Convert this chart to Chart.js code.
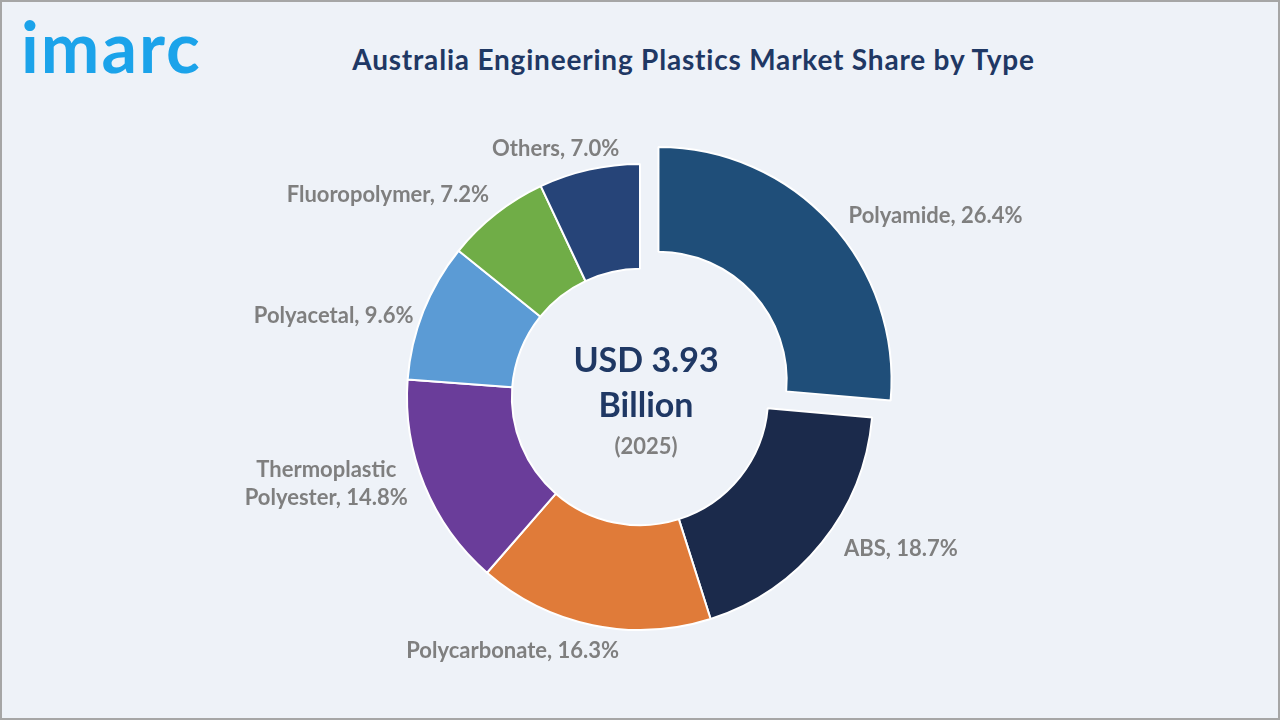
<!DOCTYPE html>
<html lang="en">
<head>
    <meta charset="UTF-8">
    <title>Australia Engineering Plastics Market Share by Type</title>
    <script src="https://cdn.jsdelivr.net/npm/chart.js"></script>
    <style>
        body { margin: 0; }
        #frame {
            position: relative;
            width: 1280px;
            height: 720px;
            box-sizing: border-box;
            border: 2px solid #a6a6a6;
            background: #eef2f8;
            font-family: Lato, "Open Sans", sans-serif;
            overflow: hidden;
        }
        #logo {
            position: absolute;
            left: 19px;
            top: 2px;
            font-size: 70px;
            font-weight: 700;
            color: #1ba3ea;
            letter-spacing: 2px;
        }
        #title {
            position: absolute;
            left: 330px;
            width: 723px;
            top: 40px;
            text-align: center;
            font-size: 28px;
            letter-spacing: 0.8px;
            font-weight: 700;
            color: #1f3864;
        }
        #chartBox {
            position: absolute;
            left: -2px;
            top: -2px;
            width: 1280px;
            height: 720px;
        }
    </style>
</head>
<body>
    <div id="frame">
        <div id="logo">imarc</div>
        <div id="title">Australia Engineering Plastics Market Share by Type</div>
        <div id="chartBox"><canvas id="shareChart" width="1280" height="720"></canvas></div>
    </div>

    <script>
        // Market share by type (%), clockwise from the top
        const types = ['Polyamide', 'ABS', 'Polycarbonate', 'Thermoplastic Polyester', 'Polyacetal', 'Fluoropolymer', 'Others'];
        const shares = [26.4, 18.7, 16.3, 14.8, 9.6, 7.2, 7.0];
        const colors = ['#1f4e79', '#1b2a4b', '#e07b39', '#6a3d9a', '#5b9bd5', '#70ad47', '#264478'];
        const centerLines = ['USD 3.93', 'Billion', '(2025)'];

        // small hand tweaks so labels sit where the original puts them
        const labelNudge = [[5, 5], [8, -5], [30, 8], [0, -8], [7, 11], [4, -5], [34, -3]];

        const labelPlugin = {
            id: 'sliceLabels',
            afterDatasetsDraw(chart) {
                const ctx = chart.ctx;
                const meta = chart.getDatasetMeta(0);
                ctx.save();
                ctx.textBaseline = 'middle';

                meta.data.forEach((arc, i) => {
                    const p = arc.getProps(['x', 'y', 'startAngle', 'endAngle', 'outerRadius']);
                    const mid = (p.startAngle + p.endAngle) / 2;
                    const shift = (arc.options.offset || 0) / 4;
                    const r = p.outerRadius + 18 + shift;
                    const ax = p.x + Math.cos(mid) * r + labelNudge[i][0];
                    const ay = p.y + Math.sin(mid) * r + labelNudge[i][1];

                    ctx.font = '700 22px Lato, sans-serif';
                    ctx.fillStyle = '#7f7f7f';
                    let text = types[i] + ', ' + shares[i].toFixed(1) + '%';
                    let lines = [text];
                    if (ctx.measureText(text).width > 240) {
                        const cut = text.indexOf(' ');
                        lines = [text.slice(0, cut), text.slice(cut + 1)];
                    }
                    const w = Math.max(...lines.map(l => ctx.measureText(l).width));
                    const right = Math.cos(mid) >= 0;
                    const left = right ? ax : ax - w;
                    const lh = 28;
                    lines.forEach((l, k) => {
                        ctx.textAlign = 'center';
                        ctx.fillText(l, left + w / 2, ay + (k - (lines.length - 1) / 2) * lh);
                    });
                });

                // text in the hole
                const cx = meta.data[0].x;
                const cy = meta.data[0].y;
                ctx.textAlign = 'center';
                ctx.fillStyle = '#1f3864';
                ctx.font = '700 34px Lato, sans-serif';
                ctx.fillText(centerLines[0], cx + 6, cy - 36);
                ctx.fillText(centerLines[1], cx + 6, cy + 9);
                ctx.fillStyle = '#7f7f7f';
                ctx.font = '700 22px Lato, sans-serif';
                ctx.fillText(centerLines[2], cx + 6, cy + 50);
                ctx.restore();
            }
        };

        const shareChart = new Chart(document.getElementById('shareChart'), {
            type: 'doughnut',
            data: {
                labels: types,
                datasets: [{
                    data: shares,
                    backgroundColor: colors,
                    borderColor: '#ffffff',
                    borderWidth: 2,
                    offset: [100, 0, 0, 0, 0, 0, 0]
                }]
            },
            options: {
                responsive: false,
                maintainAspectRatio: false,
                animation: false,
                radius: 233,
                cutout: '55%',
                layout: { padding: { left: 2, right: 2, top: 74, bottom: 0 } },
                plugins: {
                    legend: { display: false },
                    tooltip: { enabled: false }
                }
            },
            plugins: [labelPlugin]
        });
    </script>
</body>
</html>
